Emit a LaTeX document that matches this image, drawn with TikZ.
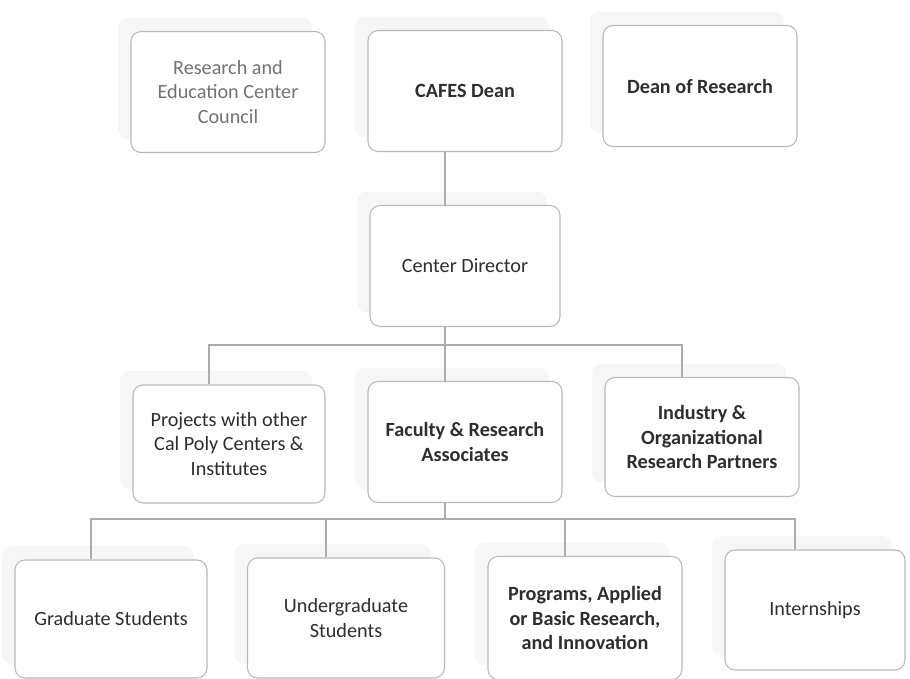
\documentclass[tikz,border=0pt]{standalone}
\usepackage{fontspec}
\setmainfont{Carlito}
\usetikzlibrary{shadows}
\begin{document}
\begin{tikzpicture}[x=0.02cm,y=-0.02cm,
	box/.style={draw=gray!55, line width=0.6pt, rounded corners=0.2cm, fill=white,
		align=center, minimum width=3.88cm, minimum height=2.42cm, inner sep=2pt,
		text=black!82, font=\fontsize{11.5}{14}\selectfont,
		drop shadow={shadow xshift=-0.26cm, shadow yshift=0.28cm, fill=gray!7, opacity=1}},
	boldbox/.style={box, font=\fontsize{11.5}{14}\selectfont\bfseries},
	link/.style={draw=gray!65, line width=0.6pt}]
	\useasboundingbox (0,0) rectangle (910,679);
	
	% top row
	\node	(council) at (228,92) [box, text=black!55] {Research and\\Education Center\\Council};
	\node	(dean) at (465,91) [boldbox] {CAFES Dean};
	\node	(resdean) at (700,86) [boldbox] {Dean of Research};
	
	\node	(director) at (465,266) [box, minimum width=3.8cm] {Center Director};
	
	% middle row
	\node	(projects) at (229,444) [box, minimum width=3.84cm, minimum height=2.36cm] {Projects with other\\Cal Poly Centers \&\\Institutes};
	\node	(faculty) at (465,442) [boldbox] {Faculty \& Research\\Associates};
	\node	(industry) at (702,437) [boldbox, minimum height=2.38cm] {Industry \&\\Organizational\\Research Partners};
	
	% bottom row
	\node	(grad) at (111,619) [box, minimum width=3.84cm, minimum height=2.36cm] {Graduate Students};
	\node	(ugrad) at (346,618) [box, minimum width=3.94cm, minimum height=2.4cm] {Undergraduate\\Students};
	\node	(programs) at (585,618) [boldbox, minimum height=2.46cm] {Programs, Applied\\or Basic Research,\\and Innovation};
	\node	(intern) at (815,610) [box, minimum width=3.6cm, minimum height=2.4cm] {Internships};
	
	\coordinate (busA) at (0,345);
	\coordinate (busB) at (0,519);
	
	\draw[link]
	([xshift=-4mm]dean.south) -- ([xshift=-4mm]director.north)
	([xshift=-4mm]director.south) -- ([xshift=-4mm]faculty.north)
	([xshift=-4mm]projects.north) -- ([xshift=-4mm]projects.north |- busA)
		-- ([xshift=-4mm]industry.north |- busA) -- ([xshift=-4mm]industry.north)
	([xshift=-4mm]faculty.south) -- ([xshift=-4mm]faculty.south |- busB)
	([xshift=-4mm]grad.north) -- ([xshift=-4mm]grad.north |- busB)
		-- ([xshift=-4mm]intern.north |- busB) -- ([xshift=-4mm]intern.north)
	([xshift=-4mm]ugrad.north) -- ([xshift=-4mm]ugrad.north |- busB)
	([xshift=-4mm]programs.north) -- ([xshift=-4mm]programs.north |- busB)
	;
\end{tikzpicture}
\end{document}
